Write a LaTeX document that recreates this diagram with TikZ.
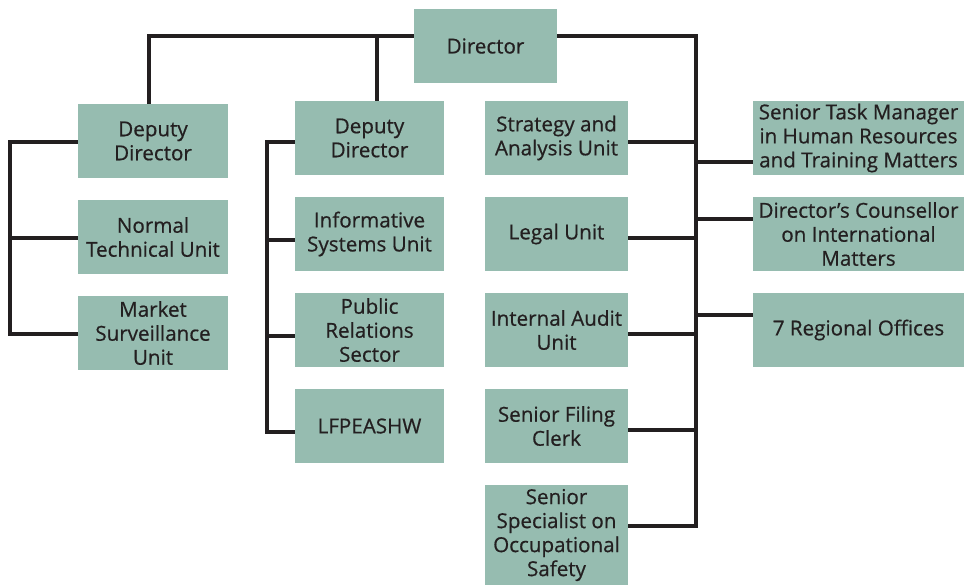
\documentclass[tikz,border=0pt]{standalone}
\usepackage{fontspec}
\setmainfont{Open Sans}[BoldFont={Open Sans}, BoldFeatures={FakeBold=0.6}]
\definecolor{boxfill}{RGB}{150,188,176}
\definecolor{ink}{RGB}{35,31,32}
\begin{document}
\begin{tikzpicture}[x=1pt,y=-1pt,
  box/.style={rectangle,fill=boxfill,text=ink,align=center,inner sep=0pt,
    minimum height=74pt,font=\fontsize{20.6}{24}\selectfont\bfseries},
  wA/.style={box,minimum width=150pt},
  wB/.style={box,minimum width=149pt},
  wC/.style={box,minimum width=143pt},
  wD/.style={box,minimum width=211pt},
  link/.style={draw=ink,line width=4.5pt}]
\useasboundingbox (0,0) rectangle (964,585);
% nodes
\node[box,minimum width=143pt] (dir) at (485.5,46) {Director};
\node[wA] (dd1) at (153,141) {Deputy\\Director};
\node[wA] (ntu) at (153,237) {Normal\\Technical Unit};
\node[wA] (msu) at (153,333) {Market\\Surveillance\\Unit};
\node[wB] (dd2) at (369.5,138) {Deputy\\Director};
\node[wB] (isu) at (369.5,234) {Informative\\Systems Unit};
\node[wB] (prs) at (369.5,330) {Public\\Relations\\Sector};
\node[wB] (lf) at (369.5,426) {LFPEASHW};
\node[wC] (sau) at (556.5,138) {Strategy and\\Analysis Unit};
\node[wC] (legal) at (556.5,234) {Legal Unit};
\node[wC] (ia) at (556.5,330) {Internal Audit\\Unit};
\node[wC] (sfc) at (556.5,426) {Senior Filing\\Clerk};
\node[wC,minimum height=100pt] (sso) at (556.5,535) {Senior\\Specialist on\\Occupational\\Safety};
\node[wD] (stm) at (858.5,138) {Senior Task Manager\\in Human Resources\\and Training Matters};
\node[wD] (dc) at (858.5,234) {Director’s Counsellor\\on International\\Matters};
\node[wD] (ro) at (858.5,330) {7 Regional Offices};
% bus coordinates
\coordinate (tl) at (149,36);
\coordinate (tm) at (377,36);
\coordinate (lb) at (10,142);
\coordinate (mb) at (267,142);
\coordinate (rb) at (696,526);
% top
\draw[link] (dir.west |- tl) -- (tl) -- (tl |- dd1.north);
\draw[link] (tm |- dd2.north) -- (tm);
\draw[link] (dir.east |- tl) -| (rb) -- (sso.east |- rb);
% left branch
\draw[link] (dd1.west |- lb) -- (lb) |- (msu.west |- 0,334);
\draw[link] (ntu.west |- 0,238) -- (lb |- 0,238);
% middle branch
\draw[link] (dd2.west |- mb) -- (mb) |- (lf.west |- 0,432);
\draw[link] (isu.west |- 0,240) -- (mb |- 0,240);
\draw[link] (prs.west |- 0,336) -- (mb |- 0,336);
% right bus
\draw[link] (sau.east |- 0,142) -- (rb |- 0,142);
\draw[link] (legal.east |- 0,238) -- (rb |- 0,238);
\draw[link] (ia.east |- 0,334) -- (rb |- 0,334);
\draw[link] (sfc.east |- 0,430) -- (rb |- 0,430);
\draw[link] (rb |- 0,162) -- (stm.west |- 0,162);
\draw[link] (rb |- 0,219) -- (dc.west |- 0,219);
\draw[link] (rb |- 0,315) -- (ro.west |- 0,315);
\end{tikzpicture}
\end{document}
